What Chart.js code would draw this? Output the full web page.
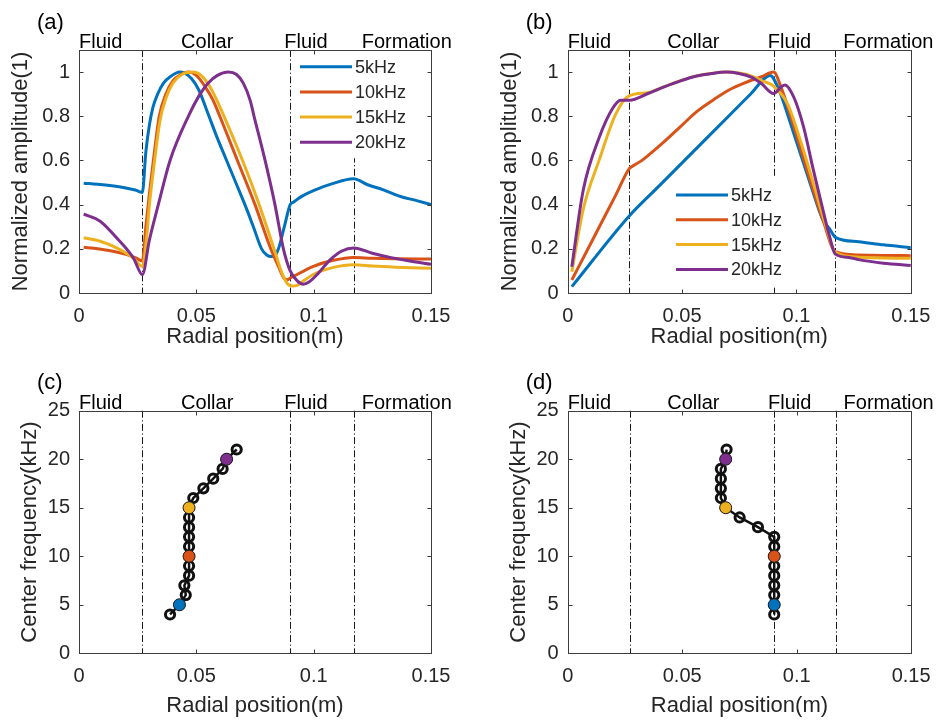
<!DOCTYPE html>
<html>
<head>
<meta charset="utf-8">
<title>Radial amplitude profiles</title>
<script src="https://cdn.jsdelivr.net/npm/chart.js@4.4.1/dist/chart.umd.min.js"></script>
<style>
  html, body { margin: 0; padding: 0; background: #fff; }
  #fig { position: relative; width: 942px; height: 723px; overflow: hidden; }
  #fig canvas { position: absolute; }
</style>
</head>
<body>
<div id="fig">
  <canvas id="pa" width="471" height="360" style="left:0;top:0"></canvas>
  <canvas id="pb" width="471" height="360" style="left:471px;top:0"></canvas>
  <canvas id="pc" width="471" height="363" style="left:0;top:360px"></canvas>
  <canvas id="pd" width="471" height="363" style="left:471px;top:360px"></canvas>
</div>
<script>
// ── Data ────────────────────────────────────────────────────
const seriesNames  = ['5kHz', '10kHz', '15kHz', '20kHz'];
const seriesColors = ['#0072BD', '#D95319', '#EDB120', '#7E2F8E'];

const regionNames = ['Fluid', 'Collar', 'Fluid', 'Formation'];
const regionX     = [0, 0.0435, 0.0875, 0.1205];
const boundaries  = [0.027, 0.09, 0.117];

const xTicks    = [0, 0.05, 0.1, 0.15];
const ampTicks  = [0, 0.2, 0.4, 0.6, 0.8, 1];
const freqTicks = [0, 5, 10, 15, 20, 25];

// (a) normalized amplitude
const xA5 = [0.002, 0.008, 0.014, 0.020, 0.024, 0.027, 0.0285, 0.030, 0.0315, 0.0335, 0.036, 0.039, 0.043, 0.045, 0.048, 0.051, 0.0554, 0.059, 0.0629, 0.0668, 0.0707, 0.0743, 0.0778, 0.080, 0.082, 0.0835, 0.085, 0.0875, 0.090, 0.0915, 0.0942, 0.101, 0.108, 0.117, 0.123, 0.1297, 0.137, 0.1439, 0.150];
const yA5 = [0.497, 0.492, 0.485, 0.475, 0.466, 0.455, 0.64, 0.76, 0.84, 0.90, 0.95, 0.98, 1.0, 0.995, 0.97, 0.92, 0.80, 0.70, 0.60, 0.50, 0.40, 0.30, 0.20, 0.172, 0.165, 0.17, 0.20, 0.30, 0.40, 0.412, 0.433, 0.468, 0.495, 0.517, 0.49, 0.467, 0.437, 0.418, 0.40];
const xA10 = [0.002, 0.008, 0.014, 0.020, 0.024, 0.027, 0.0285, 0.030, 0.0317, 0.0342, 0.037, 0.040, 0.0435, 0.0466, 0.050, 0.054, 0.057, 0.060, 0.0675, 0.075, 0.0817, 0.085, 0.0875, 0.089, 0.090, 0.0913, 0.0999, 0.1084, 0.117, 0.125, 0.135, 0.150];
const yA10 = [0.207, 0.2, 0.19, 0.175, 0.16, 0.145, 0.30, 0.45, 0.60, 0.80, 0.90, 0.96, 0.99, 1.0, 0.985, 0.93, 0.875, 0.80, 0.60, 0.40, 0.20, 0.12, 0.065, 0.06, 0.068, 0.075, 0.121, 0.148, 0.161, 0.157, 0.155, 0.154];
const xA15 = [0.002, 0.009, 0.016, 0.0232, 0.027, 0.0288, 0.030, 0.032, 0.0345, 0.037, 0.040, 0.044, 0.0487, 0.052, 0.056, 0.0618, 0.0697, 0.0768, 0.0831, 0.0865, 0.089, 0.091, 0.093, 0.095, 0.100, 0.108, 0.117, 0.125, 0.135, 0.150];
const yA15 = [0.25, 0.234, 0.204, 0.158, 0.12, 0.25, 0.40, 0.58, 0.78, 0.88, 0.95, 0.99, 1.0, 0.985, 0.93, 0.80, 0.60, 0.40, 0.20, 0.09, 0.04, 0.032, 0.035, 0.05, 0.085, 0.115, 0.128, 0.122, 0.117, 0.112];
const xA20 = [0.002, 0.009, 0.016, 0.0232, 0.027, 0.030, 0.0338, 0.0388, 0.0466, 0.051, 0.055, 0.059, 0.0636, 0.067, 0.070, 0.073, 0.0746, 0.0793, 0.0835, 0.0871, 0.090, 0.093, 0.0956, 0.098, 0.102, 0.107, 0.112, 0.117, 0.125, 0.133, 0.141, 0.150];
const yA20 = [0.357, 0.325, 0.25, 0.158, 0.083, 0.24, 0.40, 0.60, 0.80, 0.89, 0.95, 0.985, 1.0, 0.99, 0.95, 0.87, 0.80, 0.60, 0.40, 0.20, 0.10, 0.055, 0.04, 0.05, 0.09, 0.15, 0.19, 0.204, 0.18, 0.16, 0.145, 0.13];

// (b) normalized amplitude
const xB5 = [0.0018, 0.027, 0.040, 0.055, 0.070, 0.080, 0.0885, 0.0918, 0.0989, 0.106, 0.1116, 0.1145, 0.117, 0.1272, 0.138, 0.150];
const yB5 = [0.029, 0.35, 0.485, 0.641, 0.797, 0.901, 0.985, 0.933, 0.72, 0.496, 0.33, 0.29, 0.252, 0.232, 0.218, 0.205];
const xB10 = [0.0018, 0.0082, 0.0139, 0.021, 0.027, 0.029, 0.032, 0.0351, 0.0422, 0.0493, 0.0564, 0.0635, 0.0705, 0.0776, 0.0847, 0.090, 0.0932, 0.0989, 0.106, 0.1116, 0.117, 0.1272, 0.138, 0.150];
const yB10 = [0.059, 0.187, 0.301, 0.443, 0.564, 0.578, 0.597, 0.622, 0.685, 0.753, 0.821, 0.873, 0.919, 0.952, 0.979, 1.0, 0.933, 0.752, 0.511, 0.33, 0.187, 0.172, 0.17, 0.169];
const xB15 = [0.0018, 0.0068, 0.0139, 0.021, 0.027, 0.0351, 0.0422, 0.0493, 0.0564, 0.0635, 0.0691, 0.0748, 0.0805, 0.0847, 0.090, 0.096, 0.1017, 0.1074, 0.113, 0.117, 0.1272, 0.138, 0.150];
const yB15 = [0.096, 0.38, 0.606, 0.81, 0.893, 0.907, 0.934, 0.961, 0.983, 0.995, 1.0, 0.996, 0.982, 0.962, 0.936, 0.858, 0.69, 0.496, 0.30, 0.184, 0.162, 0.158, 0.157];
const xB20 = [0.0018, 0.0068, 0.0139, 0.0196, 0.0231, 0.027, 0.0351, 0.0422, 0.0493, 0.0564, 0.0635, 0.0691, 0.0748, 0.0805, 0.0847, 0.090, 0.0935, 0.0950, 0.0989, 0.1031, 0.1074, 0.1116, 0.1145, 0.117, 0.123, 0.1272, 0.138, 0.150];
const yB20 = [0.119, 0.466, 0.707, 0.835, 0.873, 0.873, 0.903, 0.933, 0.96, 0.982, 0.994, 1.0, 0.994, 0.976, 0.948, 0.903, 0.935, 0.942, 0.885, 0.752, 0.556, 0.375, 0.255, 0.176, 0.161, 0.151, 0.135, 0.125];

// (c) / (d) peak position versus center frequency
const freqs    = [4, 5, 6, 7, 8, 9, 10, 11, 12, 13, 14, 15, 16, 17, 18, 19, 20, 21];
const peakPosC = [0.0388, 0.0428, 0.0455, 0.0449, 0.0469, 0.0469, 0.0469, 0.0469, 0.0469, 0.0469, 0.0469, 0.0469, 0.0487, 0.0530, 0.0572, 0.0612, 0.0629, 0.0672];
const peakPosD = [0.0902, 0.0902, 0.0902, 0.0902, 0.0902, 0.0902, 0.0902, 0.0902, 0.0902, 0.0831, 0.0751, 0.0690, 0.0669, 0.0669, 0.0669, 0.0669, 0.0690, 0.0694];
const keyFreqs = [5, 10, 15, 20];

// ── Styling ─────────────────────────────────────────────────
const FONT = '"Liberation Sans", Arial, Helvetica, sans-serif';
const TXT  = '#262626';
const AX   = '#3c3c3c';

Chart.defaults.font.family = FONT;
Chart.defaults.color = TXT;

// dash-dot region boundaries, axes box, inward ticks, labels and legend
const decor = {
    id: 'decor',
    beforeDatasetsDraw(chart) {
        const { ctx, chartArea: a, scales: { x } } = chart;
        ctx.save();
        ctx.strokeStyle = '#1a1a1a';
        ctx.lineWidth = 1;
        ctx.setLineDash([7, 2.5, 1.2, 2.5]);
        boundaries.forEach(b => {
            const px = Math.round(x.getPixelForValue(b)) + 0.5;
            ctx.beginPath();
            ctx.moveTo(px, a.top);
            ctx.lineTo(px, a.bottom);
            ctx.stroke();
        });
        ctx.restore();
    },
    afterDraw(chart, args, o) {
        const { ctx, chartArea: a, scales: { x, y } } = chart;
        ctx.save();

        // legend (white box hides what is behind it)
        if (o.legend) {
            const L = o.legend;
            ctx.font = '18px ' + FONT;
            const x0 = a.left + L.dx, y0 = a.top + L.dy;
            const tw = Math.max(...seriesNames.map(n => ctx.measureText(n).width));
            ctx.fillStyle = '#fff';
            ctx.fillRect(x0 - 4, y0 - 17, 55 + tw + 9, L.gap * 3 + 33);
            seriesNames.forEach((n, i) => {
                const yy = y0 + i * L.gap;
                ctx.strokeStyle = seriesColors[i];
                ctx.lineWidth = 3;
                ctx.beginPath();
                ctx.moveTo(x0, yy);
                ctx.lineTo(x0 + 52, yy);
                ctx.stroke();
                ctx.fillStyle = TXT;
                ctx.textAlign = 'left';
                ctx.textBaseline = 'middle';
                ctx.fillText(n, x0 + 55, yy + 1);
            });
        }

        // axes box
        ctx.strokeStyle = AX;
        ctx.lineWidth = 1;
        const l = Math.round(a.left) + 0.5, t = Math.round(a.top) + 0.5;
        const r = Math.round(a.right) + 0.5, b = Math.round(a.bottom) + 0.5;
        ctx.strokeRect(l, t, r - l, b - t);

        // inward ticks on all four sides
        ctx.beginPath();
        x.ticks.forEach(tk => {
            const p = Math.round(x.getPixelForValue(tk.value)) + 0.5;
            ctx.moveTo(p, b); ctx.lineTo(p, b - 4);
            ctx.moveTo(p, t); ctx.lineTo(p, t + 4);
        });
        y.ticks.forEach(tk => {
            const p = Math.round(y.getPixelForValue(tk.value)) + 0.5;
            ctx.moveTo(l, p); ctx.lineTo(l + 4, p);
            ctx.moveTo(r, p); ctx.lineTo(r - 4, p);
        });
        ctx.stroke();

        // region names above the axes
        ctx.fillStyle = '#000';
        ctx.font = '20px ' + FONT;
        ctx.textAlign = 'left';
        ctx.textBaseline = 'alphabetic';
        regionNames.forEach((n, i) => ctx.fillText(n, x.getPixelForValue(regionX[i]), a.top - 2));

        // panel letter
        ctx.font = '22px ' + FONT;
        ctx.fillText(o.label, a.left - 42, 29);

        ctx.restore();
    }
};

// ── Helpers ─────────────────────────────────────────────────
function pairs(xs, ys) {
    return xs.map((v, i) => ({ x: v, y: ys[i] }));
}

function lineSet(xs, ys, i) {
    return {
        data: pairs(xs, ys),
        borderColor: seriesColors[i],
        borderWidth: 3,
        pointRadius: 0,
        fill: false,
        cubicInterpolationMode: 'monotone',
        order: 4 - i,
    };
}

function xScale(h, tickPad, titlePad) {
    return {
        type: 'linear', min: 0, max: 0.15,
        afterBuildTicks: s => { s.ticks = xTicks.map(v => ({ value: v })); },
        afterFit: s => { s.height = h; },
        grid: { display: false, drawTicks: false },
        border: { display: false },
        ticks: { padding: tickPad, font: { size: 20 }, color: TXT, maxRotation: 0, autoSkip: false, callback: v => String(v) },
        title: { display: true, text: 'Radial position(m)', font: { size: 22 }, color: TXT, padding: { top: 0, bottom: titlePad } },
    };
}

function yScale(w, max, tickVals, text, titlePad) {
    return {
        type: 'linear', min: 0, max: max,
        afterBuildTicks: s => { s.ticks = tickVals.map(v => ({ value: v })); },
        afterFit: s => { s.width = w; },
        grid: { display: false, drawTicks: false },
        border: { display: false },
        ticks: { padding: 9, font: { size: 20 }, color: TXT, autoSkip: false, callback: v => String(v) },
        title: { display: true, text: text, font: { size: 22 }, color: TXT, padding: { top: titlePad, bottom: 0 } },
    };
}

function makeChart(id, datasets, padding, scales, decorOpts) {
    return new Chart(document.getElementById(id), {
        type: 'line',
        data: { datasets: datasets },
        options: {
            responsive: false,
            animation: false,
            devicePixelRatio: 1,
            events: [],
            layout: { padding: padding },
            plugins: {
                legend: { display: false },
                tooltip: { enabled: false },
                decor: decorOpts,
            },
            scales: scales,
        },
        plugins: [decor],
    });
}

function freqSets(pos) {
    const keyPts = keyFreqs.map(f => ({ x: pos[freqs.indexOf(f)], y: f }));
    return [
        {
            data: pairs(pos, freqs),
            borderColor: '#111',
            borderWidth: 2.5,
            tension: 0,
            pointRadius: 4.6,
            pointBorderWidth: 3,
            pointBorderColor: '#111',
            pointBackgroundColor: 'rgba(255,255,255,0)',
            order: 2,
        },
        {
            data: keyPts,
            showLine: false,
            pointRadius: 6,
            pointBorderWidth: 1,
            pointBorderColor: '#222',
            pointBackgroundColor: seriesColors,
            order: 1,
        },
    ];
}

// ── Panels ──────────────────────────────────────────────────
makeChart('pa',
    [lineSet(xA5, yA5, 0), lineSet(xA10, yA10, 1), lineSet(xA15, yA15, 2), lineSet(xA20, yA20, 3)],
    { left: 0, right: 40, top: 50, bottom: 0 },
    { x: xScale(67, 11.7, 9.4), y: yScale(79, 1.1, ampTicks, 'Normalized amplitude(1)', 7.5) },
    { label: '(a)', legend: { dx: 221, dy: 16.7, gap: 25.2 } });

makeChart('pb',
    [lineSet(xB5, yB5, 0), lineSet(xB10, yB10, 1), lineSet(xB15, yB15, 2), lineSet(xB20, yB20, 3)],
    { left: 18, right: 21.3, top: 50, bottom: 0 },
    { x: xScale(67, 11.7, 9.4), y: yScale(78.7, 1.1, ampTicks, 'Normalized amplitude(1)', 7.5) },
    { label: '(b)', legend: { dx: 108.3, dy: 145, gap: 24.8 } });

makeChart('pc',
    freqSets(peakPosC),
    { left: 0, right: 40, top: 50.7, bottom: 0 },
    { x: xScale(69.7, 11.4, 4.1), y: yScale(79, 25, freqTicks, 'Center frequency(kHz)', 16.5) },
    { label: '(c)', legend: null });

makeChart('pd',
    freqSets(peakPosD),
    { left: 18, right: 21.3, top: 50.7, bottom: 0 },
    { x: xScale(69.7, 11.4, 4.1), y: yScale(78.7, 25, freqTicks, 'Center frequency(kHz)', 16.5) },
    { label: '(d)', legend: null });
</script>
</body>
</html>
